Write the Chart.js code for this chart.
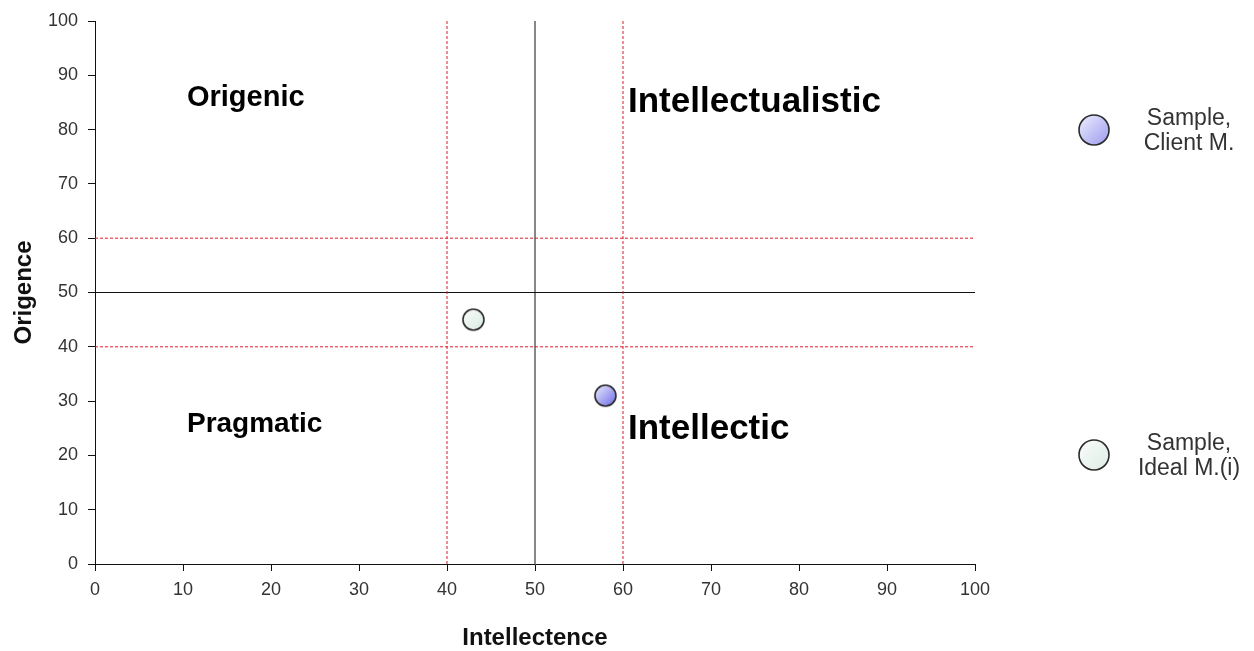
<!DOCTYPE html>
<html>
<head>
<meta charset="utf-8">
<script src="https://cdn.jsdelivr.net/npm/chart.js@4"></script>
<style>
html,body{margin:0;padding:0;background:#fff;}
#wrap{width:1254px;height:651px;position:relative;}
</style>
</head>
<body>
<div id="wrap"><canvas id="c" width="1254" height="651"></canvas></div>
<script>
// ---- data ----
const seriesNames = ['Sample, Client M.', 'Sample, Ideal M.(i)'];
const intellectence = [58, 43];
const origence = [31, 45];
const centerLines = [50];
const bandLines = [40, 60];
const axisMin = 0, axisMax = 100, tickStep = 10;
const quadrantNames = ['Origenic', 'Intellectualistic', 'Pragmatic', 'Intellectic'];

// ---- styles ----
const quadrantStyle = [
  {x: 10.45, y: 84.3, size: 29},
  {x: 60.57, y: 83.2, size: 35},
  {x: 10.45, y: 24.4, size: 28},
  {x: 60.57, y: 23.1, size: 35}
];
const fills = [
  ['#eeeeff', '#6a6ae6'],
  ['#fbfdfb', '#d9ebe2']
];
const legendFills = [
  ['#eeeeff', '#9a9aee'],
  ['#fbfdfb', '#dcece4']
];
const FONT = '"Liberation Sans", Arial, sans-serif';

function makeDot(r, cols) {
  const c = document.createElement('canvas');
  const s = Math.ceil(r * 2 + 4);
  c.width = s; c.height = s;
  const g = c.getContext('2d');
  const cx = s / 2, cy = s / 2;
  const grad = g.createLinearGradient(cx - r, cy - r, cx + r, cy + r);
  grad.addColorStop(0, cols[0]);
  grad.addColorStop(1, cols[1]);
  g.beginPath();
  g.arc(cx, cy, r, 0, Math.PI * 2);
  g.fillStyle = grad;
  g.fill();
  g.lineWidth = 1.6;
  g.strokeStyle = '#2a2a2a';
  g.stroke();
  return c;
}

const datasets = [];
seriesNames.forEach((n, i) => {
  datasets.push({
    label: n,
    type: 'scatter',
    data: [{x: intellectence[i], y: origence[i]}],
    pointStyle: makeDot(10.5, fills[i]),
    pointRadius: 11,
    pointHoverRadius: 11,
    order: 0
  });
});
function vLine(v, color, dash) {
  return {type: 'line', data: [{x: v, y: axisMin}, {x: v, y: axisMax}], borderColor: color,
    borderWidth: 1, borderDash: dash, pointRadius: 0, fill: false, order: 5};
}
function hLine(v, color, dash) {
  return {type: 'line', data: [{x: axisMin, y: v}, {x: axisMax, y: v}], borderColor: color,
    borderWidth: 1, borderDash: dash, pointRadius: 0, fill: false, order: 5};
}
bandLines.forEach(v => { datasets.push(vLine(v, '#dc1c28', [3, 2])); datasets.push(hLine(v, '#dc1c28', [3, 2])); });
centerLines.forEach(v => { datasets.push(vLine(v, '#111', [])); datasets.push(hLine(v, '#111', [])); });

const overlay = {
  id: 'overlay',
  afterDatasetsDraw(chart) {
    const ctx = chart.ctx;
    const xs = chart.scales.x, ys = chart.scales.y;
    ctx.save();
    ctx.fillStyle = '#000';
    ctx.textBaseline = 'alphabetic';
    ctx.textAlign = 'left';
    quadrantNames.forEach((t, i) => {
      const st = quadrantStyle[i];
      ctx.font = 'bold ' + st.size + 'px ' + FONT;
      ctx.fillText(t, xs.getPixelForValue(st.x), ys.getPixelForValue(st.y));
    });
    // legend
    const legendY = [130, 455];
    seriesNames.forEach((n, i) => {
      const dot = makeDot(15, legendFills[i]);
      ctx.drawImage(dot, 1094 - dot.width / 2, legendY[i] - dot.height / 2);
      ctx.fillStyle = '#333';
      ctx.textAlign = 'center';
      ctx.font = '23px ' + FONT;
      const parts = n.split(', ');
      ctx.fillText(parts[0] + ',', 1189, legendY[i] - 5);
      ctx.fillText(parts[1], 1189, legendY[i] + 20);
    });
    ctx.restore();
  }
};

new Chart(document.getElementById('c'), {
  data: {datasets},
  options: {
    responsive: false,
    animation: false,
    events: [],
    layout: {padding: {left: 0, right: 279, top: 21, bottom: 0}},
    plugins: {legend: {display: false}, tooltip: {enabled: false}},
    scales: {
      x: {
        type: 'linear', min: axisMin, max: axisMax,
        ticks: {stepSize: tickStep, color: '#333', padding: 8, font: {size: 18, family: FONT}},
        grid: {drawOnChartArea: false, drawTicks: true, tickLength: 7, color: '#111'},
        border: {display: true, color: '#111', width: 1},
        title: {display: true, text: 'Intellectence', color: '#111', font: {size: 24, weight: 'bold', family: FONT}, padding: {top: 0, bottom: -2}},
        afterFit(s) { s.height = 87; }
      },
      y: {
        type: 'linear', min: axisMin, max: axisMax,
        ticks: {stepSize: tickStep, color: '#333', padding: 10, font: {size: 18, family: FONT}},
        grid: {drawOnChartArea: false, drawTicks: true, tickLength: 7, color: '#111'},
        border: {display: true, color: '#111', width: 1},
        title: {display: true, text: 'Origence', color: '#111', font: {size: 24, weight: 'bold', family: FONT}, padding: {top: 9.5, bottom: 0}},
        afterFit(s) { s.width = 95; }
      }
    }
  },
  plugins: [overlay]
});
</script>
</body>
</html>
